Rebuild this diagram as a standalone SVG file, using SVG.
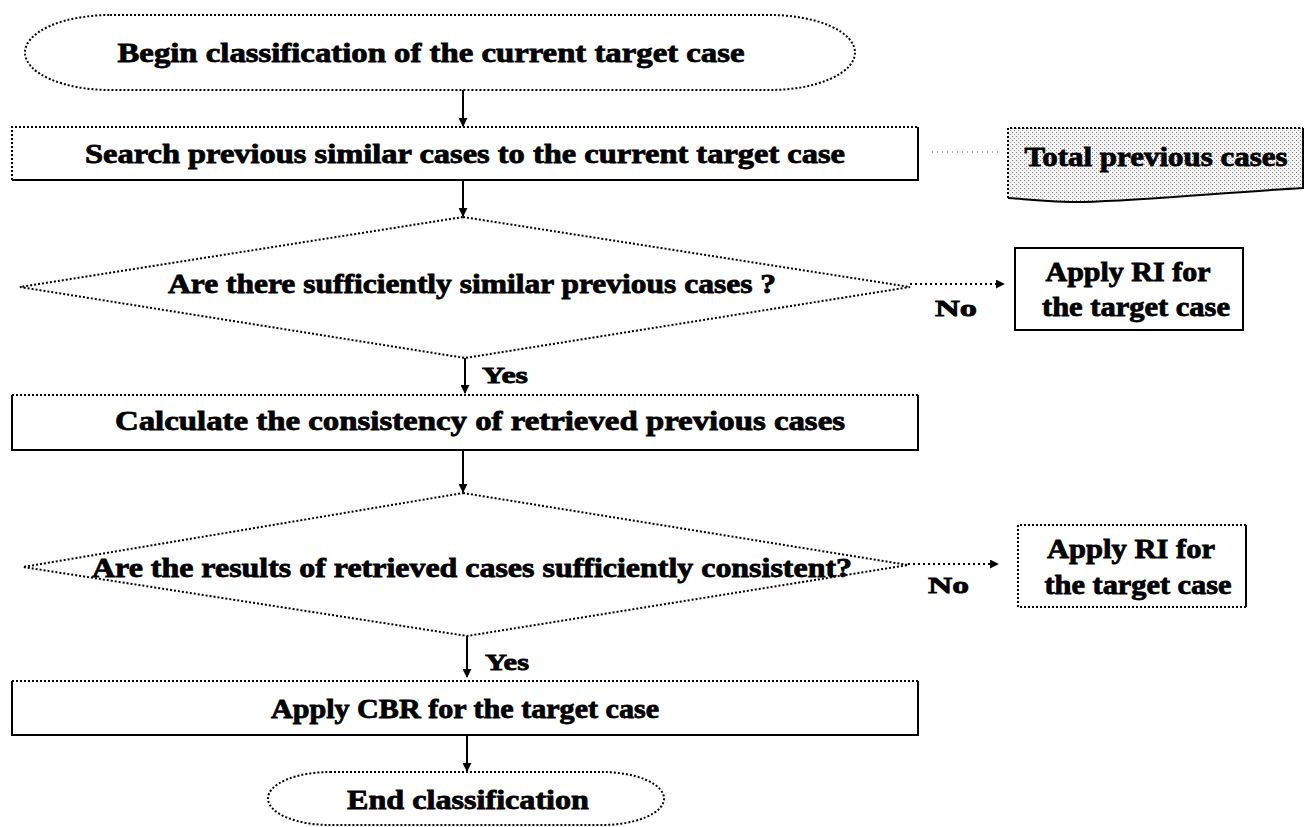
<svg xmlns="http://www.w3.org/2000/svg" width="1316" height="827" viewBox="0 0 1316 827">
<style>
  .t{font-family:"Liberation Serif","Times New Roman",serif;font-weight:bold;fill:#000;stroke:#000;stroke-width:0.8;}
  .big{font-size:27px;}
  .lab{font-size:24px;}
  .dot{fill:none;stroke:#000;stroke-width:2;stroke-dasharray:2 2;}
  .sol{fill:none;stroke:#000;stroke-width:2;}
  .conn{fill:none;stroke:#000;stroke-width:2;}
  .dconn{fill:none;stroke:#000;stroke-width:2;stroke-dasharray:2 3;}
</style>
<defs>
  <marker id="ah" viewBox="0 0 10 10" refX="9" refY="5" markerWidth="4.5" markerHeight="4.5" orient="auto" markerUnits="strokeWidth">
    <path d="M0,0 L10,5 L0,10 Z" fill="#000"/>
  </marker>
  <pattern id="stip" width="4" height="4" patternUnits="userSpaceOnUse">
    <rect width="4" height="4" fill="#f4f4f4"/>
    <rect x="0" y="0" width="1" height="1" fill="#7a7a7a"/>
    <rect x="2" y="2" width="1" height="1" fill="#9a9a9a"/>
  </pattern>
</defs>
<rect width="1316" height="827" fill="#fff"/>

<g id="connectors">
  <line class="conn" x1="463" y1="90" x2="463" y2="126" marker-end="url(#ah)"/>
  <line class="conn" x1="463" y1="180" x2="463" y2="216" marker-end="url(#ah)"/>
  <line class="conn" x1="465" y1="358" x2="465" y2="393" marker-end="url(#ah)"/>
  <line class="conn" x1="463" y1="450" x2="463" y2="492" marker-end="url(#ah)"/>
  <line class="conn" x1="467" y1="636" x2="467" y2="677" marker-end="url(#ah)"/>
  <line class="conn" x1="467" y1="735" x2="467" y2="771" marker-end="url(#ah)"/>
  <line class="dconn" x1="910" y1="284" x2="1004" y2="284" marker-end="url(#ah)"/>
  <line class="dconn" x1="908" y1="564" x2="998" y2="564" marker-end="url(#ah)"/>
  <line x1="932" y1="152" x2="998" y2="152" stroke="#aaa" stroke-width="2" stroke-dasharray="1 4"/>
  <text class="t lab" x="482" y="383" textLength="46" lengthAdjust="spacingAndGlyphs">Yes</text>
  <text class="t lab" x="485" y="670" textLength="44" lengthAdjust="spacingAndGlyphs">Yes</text>
  <text class="t lab" x="935" y="316" textLength="42" lengthAdjust="spacingAndGlyphs">No</text>
  <text class="t lab" x="928" y="593" textLength="41" lengthAdjust="spacingAndGlyphs">No</text>
</g>

<g id="begin">
  <path class="dot" d="M110,15 L770,15 A85,37.5 0 0 1 770,90 L110,90 A85,37.5 0 0 1 110,15 Z"/>
  <text class="t big" x="431" y="62" text-anchor="middle" textLength="627" lengthAdjust="spacingAndGlyphs">Begin classification of the current target case</text>
</g>

<g id="search">
  <path class="dot" d="M12,180 L12,127 L918,127"/>
  <path class="sol" d="M918,127 L918,180 L12,180"/>
  <text class="t big" x="465" y="163" text-anchor="middle" textLength="760" lengthAdjust="spacingAndGlyphs">Search previous similar cases to the current target case</text>
</g>

<g id="total">
  <path d="M1008,128 L1303,128 L1303,188 C1230,192 1150,200 1083,202 C1050,202 1025,199 1008,198 Z" fill="url(#stip)" stroke="none"/>
  <path class="dot" d="M1008,198 L1008,128 L1303,128"/>
  <path class="sol" d="M1303,128 L1303,188 C1230,192 1150,200 1083,202 C1050,202 1025,199 1008,198"/>
  <text class="t big" x="1156" y="166" text-anchor="middle" textLength="263" lengthAdjust="spacingAndGlyphs">Total previous cases</text>
</g>

<g id="decision1">
  <path class="dot" d="M463,217 L910,287 L465,358 L20,287 Z"/>
  <text class="t big" x="472" y="293" text-anchor="middle" textLength="608" lengthAdjust="spacingAndGlyphs">Are there sufficiently similar previous cases ?</text>
</g>

<g id="ri1">
  <rect class="sol" x="1015" y="248" width="228" height="82"/>
  <text class="t big" x="1128" y="281" text-anchor="middle" textLength="165" lengthAdjust="spacingAndGlyphs">Apply RI for</text>
  <text class="t big" x="1136" y="316" text-anchor="middle" textLength="188" lengthAdjust="spacingAndGlyphs">the target case</text>
</g>

<g id="calculate">
  <path class="dot" d="M12,395 L918,395"/>
  <path class="sol" d="M12,395 L12,450 L918,450 L918,395"/>
  <text class="t big" x="480" y="430" text-anchor="middle" textLength="730" lengthAdjust="spacingAndGlyphs">Calculate the consistency of retrieved previous cases</text>
</g>

<g id="decision2">
  <path class="dot" d="M463,493 L908,565 L467,636 L23,567 Z"/>
  <text class="t big" x="472" y="577" text-anchor="middle" textLength="760" lengthAdjust="spacingAndGlyphs">Are the results of retrieved cases sufficiently consistent?</text>
</g>

<g id="ri2">
  <path class="dot" d="M1018,607 L1018,525 L1246,525"/>
  <path class="sol" d="M1246,525 L1246,607"/>
  <path class="dot" d="M1246,607 L1018,607"/>
  <text class="t big" x="1131" y="558" text-anchor="middle" textLength="168" lengthAdjust="spacingAndGlyphs">Apply RI for</text>
  <text class="t big" x="1138" y="594" text-anchor="middle" textLength="187" lengthAdjust="spacingAndGlyphs">the target case</text>
</g>

<g id="cbr">
  <path class="dot" d="M12,681 L918,681"/>
  <path class="sol" d="M12,681 L12,735 L918,735 L918,681"/>
  <text class="t big" x="465" y="718" text-anchor="middle" textLength="388" lengthAdjust="spacingAndGlyphs">Apply CBR for the target case</text>
</g>

<g id="end">
  <path class="dot" d="M330,772 L602,772 A62,26.5 0 0 1 602,825 L330,825 A62,26.5 0 0 1 330,772 Z"/>
  <text class="t big" x="468" y="809" text-anchor="middle" textLength="242" lengthAdjust="spacingAndGlyphs">End classification</text>
</g>
</svg>
